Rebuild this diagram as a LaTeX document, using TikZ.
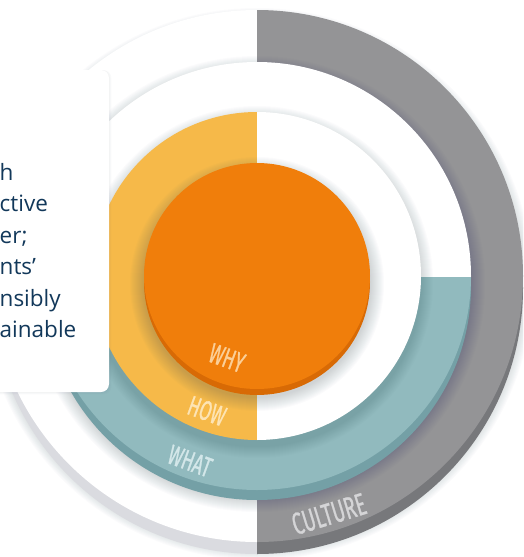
\documentclass[tikz,border=0pt]{standalone}
\usepackage{fontspec}
\setmainfont{Open Sans}
\newfontfamily\labelfont[FakeStretch=0.62,FakeBold=0.8]{Fira Sans}
\definecolor{whyface}{HTML}{F07E0B}
\definecolor{whyrim}{HTML}{D86A05}
\definecolor{whytext}{HTML}{FBCF98}
\definecolor{howface}{HTML}{F6B949}
\definecolor{howtext}{HTML}{FDE4B4}
\definecolor{whatface}{HTML}{91BABE}
\definecolor{whatrim}{HTML}{74A0A6}
\definecolor{whattext}{HTML}{D3E7E9}
\definecolor{cultface}{HTML}{949496}
\definecolor{cultrim}{HTML}{77787B}
\definecolor{culttext}{HTML}{D5D5D7}
\definecolor{baserim}{HTML}{DADBE0}
\definecolor{shadowtint}{HTML}{2E3C5A}
\definecolor{bodytext}{HTML}{12385A}
% soft drop shadow of a disc: centre x, centre y, radius, offset, steps
\newcommand\discshadow[5]{%
  \foreach \k in {1,...,#5}{%
    \fill[shadowtint,opacity=0.016] (#1,#2+#4) circle[radius=#3+\k];}}
\tikzset{
  ringlabel/.style={font=\labelfont\fontsize{28}{28}\selectfont, inner sep=0pt},
  bodyline/.style={font=\fontsize{22.5}{26}\selectfont, text=bodytext,
    anchor=base west, inner sep=0pt}
}
\begin{document}
\begin{tikzpicture}[x=1pt,y=-1pt]
\clip (0,0) rectangle (523,557);
\fill[white] (0,0) rectangle (523,557);

% outer disc: white half and the grey CULTURE half
\discshadow{257}{276}{266}{8}{10}
\begin{scope}
  \clip (0,0) rectangle (257,557);
  \fill[baserim] (257,288) circle[radius=266];
  \fill[white] (257,276) circle[radius=266];
\end{scope}
\begin{scope}
  \clip (257,0) rectangle (523,557);
  \fill[cultrim] (257,288) circle[radius=266];
  \fill[cultface] (257,276) circle[radius=266];
\end{scope}
\node[ringlabel, text=culttext, rotate=17, font=\labelfont\fontsize{31}{31}\selectfont]
  (culture) at (329,514) {CULTURE};

% WHAT disc: white upper half, teal lower half
\discshadow{257}{276}{214}{8}{14}
\begin{scope}
  \clip (0,270) rectangle (523,557);
  \fill[whatrim] (257,286) circle[radius=214];
\end{scope}
\begin{scope}
  \clip (0,0) rectangle (523,277);
  \fill[white] (257,276) circle[radius=214];
\end{scope}
\begin{scope}
  \clip (0,277) rectangle (523,557);
  \fill[whatface] (257,276) circle[radius=214];
\end{scope}
\node[ringlabel, text=whattext, rotate=-20] (what) at (190,461) {WHAT};

% HOW disc: yellow left half, white right half
\discshadow{257}{276}{164}{6}{12}
\begin{scope}
  \clip (0,0) rectangle (257,557);
  \fill[howface] (257,276) circle[radius=164];
\end{scope}
\begin{scope}
  \clip (257,0) rectangle (523,557);
  \fill[white] (257,276) circle[radius=164];
\end{scope}
\node[ringlabel, text=howtext, rotate=-20] (how) at (207,411) {HOW};

% WHY disc with its darker edge
\discshadow{257}{276}{113}{8}{14}
\fill[whyrim] (257,282) circle[radius=113];
\fill[whyface] (257,276) circle[radius=113];
\node[ringlabel, text=whytext, rotate=-20] (why) at (227,358) {WHY};

% text panel on the left
\foreach \k in {1,...,3}{%
  \fill[shadowtint,opacity=0.02,rounded corners=8pt]
    (-20,70) rectangle (109+\k*0.8,392+\k*0.8);}
\fill[white,rounded corners=8pt] (-20,70) rectangle (109,392);
\node[bodyline] (l1) at (-0.5,180) {h};
\node[bodyline] (l2) at (-0.5,211.5) {ctive};
\node[bodyline] (l3) at (-0.5,243) {er;};
\node[bodyline] (l4) at (-0.5,274.5) {nts’};
\node[bodyline] (l5) at (-0.5,306) {nsibly};
\node[bodyline] (l6) at (-0.5,337.5) {ainable};
\end{tikzpicture}
\end{document}
